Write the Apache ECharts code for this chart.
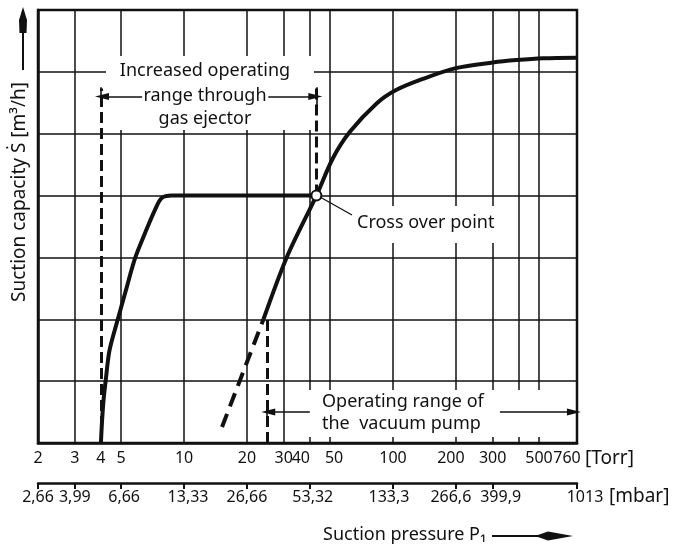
<!DOCTYPE html>
<html>
<head>
<meta charset="utf-8">
<script src="https://cdn.jsdelivr.net/npm/echarts@6/dist/echarts.min.js"></script>
<style>
    html, body { margin: 0; padding: 0; background: #fff; }
    #main { width: 687px; height: 548px; }
</style>
</head>
<body>
<div id="main"></div>
<script>
// vertical grid lines and labels on the Torr scale
const torrGrid = [3, 5, 10, 20, 30, 40, 50, 100, 200, 300, 400, 500];
const torrLabels = [2, 3, 4, 5, 10, 20, 30, 40, 50, 100, 200, 300, 500, 760];
// second scale in mbar
const mbarTicks = [2.666, 4.0, 6.666, 13.33, 26.66, 53.32, 133.3, 266.6, 399.9, 666.5, 1013.3];
const mbarLabels = ['2,66', '3,99', '6,66', '13,33', '26,66', '53,32', '133,3', '266,6', '399,9', '666,5', '1013'];

// [Torr, suction capacity]
const ejector = [
    [4, 0], [4.05, 0.35], [4.12, 0.7], [4.22, 1.02], [4.4, 1.5], [4.82, 2.0], [5.27, 2.47],
    [5.82, 2.98], [6.5, 3.39], [7.26, 3.77], [7.82, 3.96], [8.73, 4.0], [12, 4.0], [43, 4.0]
];
const pumpExtrapolated = [[15.2, 0.26], [24, 2.0]];
const pump = [
    [24, 2.0], [31, 3.0], [43, 4.0], [51.5, 4.6], [62.2, 5.03], [83.5, 5.49], [104, 5.71],
    [140, 5.89], [200, 6.06], [300, 6.15], [390, 6.19], [525, 6.22], [760, 6.23]
];
const crossOver = [[43, 4.0]];

(function() {
    var chartDom = document.getElementById('main');
    var myChart = echarts.init(chartDom);
    var option;
    const font = '"Noto Sans", sans-serif';
    const black = '#111';

    const dashed = { color: black, width: 3, type: [11, 5] };
    const thin = { color: black, width: 1.6, type: 'solid' };

    // small sideways nudges of some tick labels, as in the printed figure
    const torrNudge = { 40: -9, 50: 4, 200: -5, 760: -10 };
    const mbarNudge = [0, 0, 3, 4, 0, 3, -4, -5, 8, 11, 8];
    function nudgeKey(n) {
        return n === 0 ? 'z' : (n > 0 ? 'p' + n : 'm' + (-n));
    }
    const rich = {};
    Object.values(torrNudge).concat(mbarNudge, [0]).forEach(function(n) {
        rich[nudgeKey(n)] = { padding: n >= 0 ? [0, 0, 0, 2 * n] : [0, -2 * n, 0, 0] };
    });
    // keep the end labels inside the axis extent
    const edge = function(v, i, a) { return i === a.length - 1 ? v * 0.99999 : (i === 0 ? v * 1.00001 : v); };

    function arrow(from, to) {
        return [
            { coord: from, symbol: 'none' },
            { coord: to, symbol: 'triangle', symbolSize: [7, 14], lineStyle: thin }
        ];
    }
    function txt(text, x, y, align, size) {
        return {
            type: 'text', z: 10,
            style: { text: text, x: x, y: y, textAlign: align, textVerticalAlign: 'middle', font: size + 'px ' + font, fill: black }
        };
    }

    option = {
        animation: false,
        grid: {
            left: 38, right: 110, top: 10, bottom: 105,
            show: true, borderColor: black, borderWidth: 2.5
        },
        xAxis: [{
            type: 'log',
            min: 2,
            max: 760,
            position: 'bottom',
            axisLine: { lineStyle: { color: black, width: 2.5 } },
            axisTick: { show: false, customValues: torrGrid },
            splitLine: { show: true, lineStyle: { color: black, width: 1.5 } },
            axisLabel: {
                customValues: torrLabels.map(edge),
                showMinLabel: true,
                showMaxLabel: true,
                color: black,
                fontFamily: font,
                fontSize: 16,
                margin: 7,
                rich: rich,
                formatter: function(v) {
                    const t = Math.round(v);
                    return '{' + nudgeKey(torrNudge[t] || 0) + '|' + t + '}';
                }
            }
        }, {
            type: 'log',
            min: 2.666,
            max: 1013.3,
            position: 'bottom',
            offset: 40,
            axisLine: { onZero: false, lineStyle: { color: black, width: 2.5 } },
            axisTick: { show: true, customValues: mbarTicks.map(edge), length: 6, lineStyle: { color: black, width: 2 } },
            splitLine: { show: false },
            axisLabel: {
                customValues: mbarTicks.map(edge),
                showMinLabel: true,
                showMaxLabel: true,
                color: black,
                fontFamily: font,
                fontSize: 16,
                margin: 6,
                rich: rich,
                formatter: function(v) {
                    let best = 0;
                    mbarTicks.forEach(function(t, i) {
                        if (Math.abs(Math.log(t / v)) < Math.abs(Math.log(mbarTicks[best] / v))) best = i;
                    });
                    return '{' + nudgeKey(mbarNudge[best]) + '|' + mbarLabels[best] + '}';
                }
            }
        }],
        yAxis: {
            type: 'value',
            min: 0,
            max: 7,
            interval: 1,
            axisLine: { show: true, lineStyle: { color: black, width: 2.5 } },
            axisTick: { show: false },
            axisLabel: { show: false },
            splitLine: { show: true, lineStyle: { color: black, width: 1.5 } }
        },
        graphic: [
            // white patches behind the annotations
            { type: 'rect', z: 1, shape: { x: 106, y: 56, width: 208, height: 74 }, style: { fill: '#fff' } },
            { type: 'rect', z: 1, shape: { x: 353, y: 206, width: 156, height: 37 }, style: { fill: '#fff' } },
            { type: 'rect', z: 1, shape: { x: 306, y: 390, width: 240, height: 47 }, style: { fill: '#fff' } },
            txt('Increased operating', 205, 71, 'center', 18),
            txt('range through', 205, 96, 'center', 18),
            txt('gas ejector', 205, 119, 'center', 18),
            txt('Cross over point', 357, 223, 'left', 18),
            txt('Operating range of', 322, 402, 'left', 18),
            txt('the  vacuum pump', 322, 424, 'left', 18),
            txt('[Torr]', 585, 459, 'left', 19),
            txt('[mbar]', 609, 497, 'left', 19),
            txt('Suction pressure P\u2081', 323, 535, 'left', 18),
            { type: 'line', z: 10, shape: { x1: 492, y1: 536, x2: 545, y2: 536 }, style: { stroke: black, lineWidth: 2 } },
            { type: 'polygon', z: 10, shape: { points: [[535, 536], [548, 531.5], [573, 536], [548, 540.5]] }, style: { fill: black } },
            {
                type: 'text', z: 10, rotation: Math.PI / 2, x: 20, y: 192,
                style: { text: 'Suction capacity \u1E60 [m\u00B3/h]', textAlign: 'center', textVerticalAlign: 'middle', font: '19px ' + font, fill: black }
            },
            { type: 'line', z: 10, shape: { x1: 23, y1: 70, x2: 23, y2: 30 }, style: { stroke: black, lineWidth: 2 } },
            { type: 'polygon', z: 10, shape: { points: [[23, 7], [27, 20], [26.5, 33], [19.5, 33], [19, 20]] }, style: { fill: black } },
            { type: 'line', z: 10, shape: { x1: 320, y1: 197, x2: 352, y2: 215 }, style: { stroke: black, lineWidth: 1.3 } }
        ],
        series: [{
            name: 'gas ejector',
            type: 'line',
            xAxisIndex: 0,
            data: ejector,
            smooth: 0.3,
            symbol: 'none',
            z: 3,
            lineStyle: { color: black, width: 4 },
            markLine: {
                silent: true,
                symbol: 'none',
                label: { show: false },
                lineStyle: dashed,
                data: [
                    [{ coord: [4, 0] }, { coord: [4, 5.73] }],
                    [{ coord: [43, 4] }, { coord: [43, 5.73] }],
                    [{ coord: [25, 0] }, { coord: [25, 2.0] }],
                    [{ coord: [4, 5.75], lineStyle: thin }, { coord: [4, 5.45] }],
                    [{ coord: [43, 5.75], lineStyle: thin }, { coord: [43, 5.45] }],
                    [{ coord: [25, 0.62], lineStyle: thin }, { coord: [25, 0.36] }],
                    arrow([6.3, 5.6], [4.05, 5.6]),
                    arrow([25.3, 5.6], [42.5, 5.6]),
                    arrow([40, 0.5], [25.3, 0.5]),
                    arrow([325, 0.5], [735, 0.5])
                ]
            }
        }, {
            name: 'pump extrapolated',
            type: 'line',
            xAxisIndex: 0,
            data: pumpExtrapolated,
            symbol: 'none',
            z: 3,
            lineStyle: { color: black, width: 4, type: [14, 8] }
        }, {
            name: 'vacuum pump',
            type: 'line',
            xAxisIndex: 0,
            data: pump,
            smooth: 0.3,
            symbol: 'none',
            z: 3,
            lineStyle: { color: black, width: 4 }
        }, {
            name: 'cross over',
            type: 'scatter',
            xAxisIndex: 0,
            data: crossOver,
            symbol: 'circle',
            symbolSize: 10,
            z: 5,
            itemStyle: { color: '#fff', borderColor: black, borderWidth: 2, opacity: 1 }
        }]
    };

    myChart.setOption(option);
})();
</script>
</body>
</html>
